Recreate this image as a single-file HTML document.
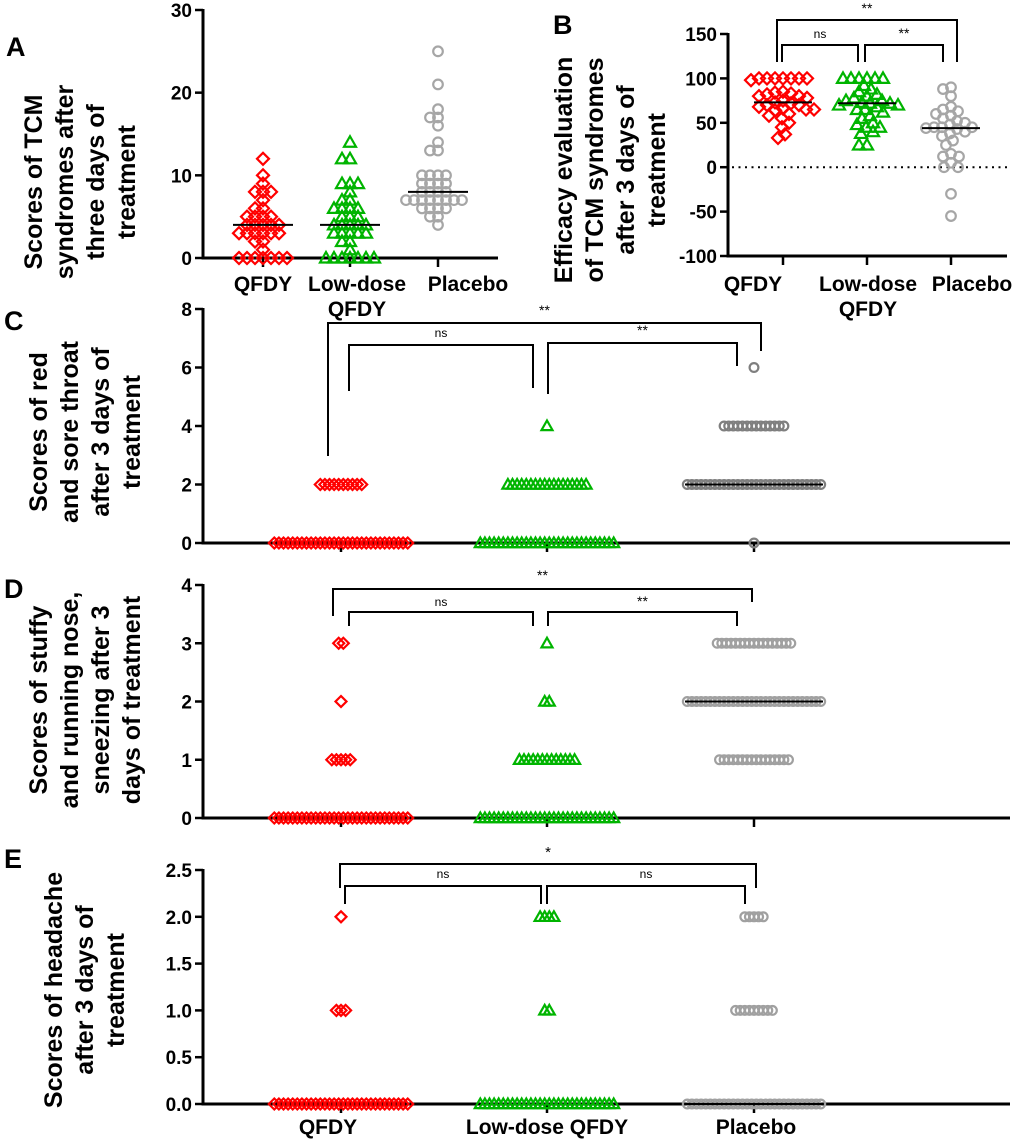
<!DOCTYPE html>
<html><head><meta charset="utf-8">
<style>
html,body{margin:0;padding:0;background:#fff;}
svg{display:block;font-family:"Liberation Sans",sans-serif;}
</style></head>
<body>
<svg id="fig" width="1020" height="1144" viewBox="0 0 1020 1144">
  <g id="static" font-weight="bold" fill="#000">
    <text x="6" y="56" font-size="27">A</text>
    <text x="553" y="34" font-size="27">B</text>
    <text x="4" y="330" font-size="27">C</text>
    <text x="4" y="598" font-size="27">D</text>
    <text x="4" y="868" font-size="27">E</text>

    <g font-size="25" text-anchor="middle" transform="translate(80,182) rotate(-90)">
      <text y="-38">Scores of TCM</text><text y="-7">syndromes after</text><text y="24">three days of</text><text y="55">treatment</text>
    </g>
    <g font-size="25" text-anchor="middle" transform="translate(610,170) rotate(-90)">
      <text y="-38">Efficacy evaluation</text><text y="-7">of TCM syndromes</text><text y="24">after 3 days of</text><text y="55">treatment</text>
    </g>
    <g font-size="25" text-anchor="middle" transform="translate(85,432) rotate(-90)">
      <text y="-38">Scores of red</text><text y="-7">and sore throat</text><text y="24">after 3 days of</text><text y="55">treatment</text>
    </g>
    <g font-size="25" text-anchor="middle" transform="translate(85,700) rotate(-90)">
      <text y="-38">Scores of stuffy</text><text y="-7">and running nose,</text><text y="24">sneezing after 3</text><text y="55">days of treatment</text>
    </g>
    <g font-size="25" text-anchor="middle" transform="translate(85,990) rotate(-90)">
      <text y="-23">Scores of headache</text><text y="8">after 3 days of</text><text y="39">treatment</text>
    </g>

    <g font-size="21" text-anchor="middle">
      <text x="263" y="291">QFDY</text><text x="357" y="291">Low-dose</text><text x="357" y="316">QFDY</text><text x="468" y="291">Placebo</text>
    </g>
    <g font-size="21" text-anchor="middle">
      <text x="753" y="291">QFDY</text><text x="868" y="291">Low-dose</text><text x="868" y="316">QFDY</text><text x="972" y="291">Placebo</text>
    </g>
    <g font-size="21" text-anchor="middle">
      <text x="328" y="1134">QFDY</text><text x="547" y="1134">Low-dose QFDY</text><text x="756" y="1134">Placebo</text>
    </g>
  </g>
  <g id="dyn"></g>
</svg>
<script>
// ---------- Panel A data ----------
const aCategories = ["QFDY","Low-dose QFDY","Placebo"];
const aQfdy = [12,10,9,8,8,8,7,6,6,5,5,5,5,4,4,4,4,4,3,3,3,3,3,3,2,2,1,0,0,0,0,0,0,0];
const aLow = [14,12,12,9,9,9,8,7,7,6,6,6,6,5,5,5,4,4,4,4,4,3,3,3,3,3,2,2,1,0,0,0,0,0,0,0];
const aPlacebo = [25,21,18,17,17,16,14,13,13,10,10,10,10,9,9,9,9,8,8,8,8,7,7,7,7,7,7,7,7,6,6,6,6,5,5,4];
const aMedians = [4,4,8];
const aTicks = [0,10,20,30];
// ---------- Panel B data ----------
const bQfdy = [100,100,100,100,100,100,100,98,85,84,83,82,80,80,78,75,73,72,70,70,68,66,65,65,64,60,58,55,50,45,37,33];
const bLow = [100,100,100,100,100,100,92,88,85,82,80,78,75,75,73,72,72,70,70,68,65,65,62,58,55,50,48,45,45,40,38,25,25];
const bPlacebo = [90,88,80,68,65,63,60,58,55,52,50,48,45,45,45,44,43,40,38,35,30,25,15,12,12,5,0,0,-30,-55];
const bMedians = [73,72,44];
const bTicks = [-100,-50,0,50,100,150];
// ---------- Panel C data (counts per level) ----------
const cLevels = [0,2,4,6];
const cQfdyCounts = [30,10,0,0];
const cLowCounts = [30,18,1,0];
const cPlaceboCounts = [1,30,14,1];
const cTicks = [0,2,4,6,8];
// ---------- Panel D data ----------
const dLevels = [0,1,2,3];
const dQfdyCounts = [30,5,1,2];
const dLowCounts = [30,13,2,1];
const dPlaceboCounts = [0,16,30,17];
const dTicks = [0,1,2,3,4];
// ---------- Panel E data ----------
const eLevels = [0,1,2];
const eQfdyCounts = [30,3,1];
const eLowCounts = [30,2,4];
const ePlaceboCounts = [30,9,5];
const eTicks = [0,0.5,1,1.5,2,2.5];

const NS = "http://www.w3.org/2000/svg";
const dyn = document.getElementById("dyn");
function mk(tag, attrs, parent){
  const e = document.createElementNS(NS, tag);
  for (const k in attrs) e.setAttribute(k, attrs[k]);
  (parent||dyn).appendChild(e);
  return e;
}
const COLORS = {diamond:"#ff0000", tri:"#00b400", circ:"#a6a6a6"};
function marker(shape, x, y, r, color, g){
  let e;
  if (shape==="diamond"){
    e = mk("polygon",{points:`${x},${y-r} ${x+r},${y} ${x},${y+r} ${x-r},${y}`,fill:"none",stroke:color,"stroke-width":2.2},g);
  } else if (shape==="tri"){
    e = mk("polygon",{points:`${x},${y-r} ${x+r},${y+r*0.75} ${x-r},${y+r*0.75}`,fill:"none",stroke:color,"stroke-width":2.2},g);
  } else {
    e = mk("circle",{cx:x,cy:y,r:r*0.8,fill:"none",stroke:color,"stroke-width":2.2},g);
  }
  
  
  return e;
}
function axes(p, ticks, fmt, name){
  const g = mk("g",{});
  
  
  const yb = p.xAxisY !== undefined ? p.xAxisY : p.y(p.d0);
  mk("line",{x1:p.x0,y1:p.y(p.d1)-1,x2:p.x0,y2:yb+1.5,stroke:"#000","stroke-width":3},g);
  mk("line",{x1:p.x0-1.5,y1:yb,x2:p.x1,y2:yb,stroke:"#000","stroke-width":3},g);
  ticks.forEach(t=>{
    const y = p.y(t);
    mk("line",{x1:p.x0-8,y1:y,x2:p.x0,y2:y,stroke:"#000","stroke-width":2.5},g);
    const tx = mk("text",{x:p.x0-11,y:y+7,"text-anchor":"end","font-size":p.fs||19,"font-weight":"bold"},g);
    tx.textContent = fmt(t);
  });
  p.cats.forEach(cx=>{
    mk("line",{x1:cx,y1:yb,x2:cx,y2:yb+9,stroke:"#000","stroke-width":2.5},g);
  });
}
function swarm(vals, cx, yf, d){
  const placed = [];
  const sorted = vals.slice().sort((a,b)=>b-a);
  sorted.forEach(v=>{
    const y = yf(v);
    for (let k=0;k<200;k++){
      const off = (k%2===0?1:-1)*Math.ceil(k/2)*1;
      const x = cx+off;
      if (placed.every(q=>(q[0]-x)**2+(q[1]-y)**2 >= d*d)){ placed.push([x,y]); break; }
    }
  });
  return placed;
}
function medianLine(cx, y, w, g){
  const l = mk("line",{x1:cx-w/2,y1:y,x2:cx+w/2,y2:y,stroke:"#000","stroke-width":2},g);
  
  
}
function bracket(xa, xb, ytop, ya, yb2, label, ly, fs){
  const g = mk("g",{});
  
  
  mk("path",{d:`M${xa},${ya} L${xa},${ytop} L${xb},${ytop} L${xb},${yb2}`,fill:"none",stroke:"#000","stroke-width":2},g);
  const t = mk("text",{x:(xa+xb)/2,y:ly,"text-anchor":"middle","font-size":fs},g);
  t.textContent = label;
}

// ---------- Panel A ----------
const pA = {x0:203,x1:498,d0:0,d1:30,cats:[263,350,438]};
pA.y = v => 258 + (10-258)*(v-0)/30;
axes(pA, aTicks, t=>String(t), "axes-a");
[[aQfdy,"diamond"],[aLow,"tri"],[aPlacebo,"circ"]].forEach((s,i)=>{
  const g = mk("g",{});
  
  
  swarm(s[0], pA.cats[i], pA.y, 8).forEach(p=>marker(s[1],p[0],p[1],6,COLORS[s[1]],g));
  medianLine(pA.cats[i], pA.y(aMedians[i]), 60, g);
});

// ---------- Panel B ----------
const pB = {x0:728,x1:1007,d0:-100,d1:150,cats:[783,867,951],xAxisY:256};
pB.y = v => 256 + (34-256)*(v+100)/250;
axes(pB, bTicks, t=>String(t), "axes-b");
(function(){
  const z = mk("line",{x1:732,y1:pB.y(0),x2:1007,y2:pB.y(0),stroke:"#000","stroke-width":2,"stroke-dasharray":"2,4.5"});
  
  
})();
[[bQfdy,"diamond"],[bLow,"tri"],[bPlacebo,"circ"]].forEach((s,i)=>{
  const g = mk("g",{});
  
  
  swarm(s[0], pB.cats[i], pB.y, 7.5).forEach(p=>marker(s[1],p[0],p[1],6,COLORS[s[1]],g));
  medianLine(pB.cats[i], pB.y(bMedians[i]), 58, g);
});
bracket(777,957,20,62,62,"**",13,14);
bracket(782,858,45,62,62,"ns",38,12);
bracket(865,943,45,62,62,"**",38,14);

// ---------- Rows panels ----------
function rowPanel(p, levels, series, ticks, fmt, name, colors){
  axes(p, ticks, fmt, name);
  series.forEach((s,i)=>{
    const g = mk("g",{});
    
    
    levels.forEach((lv,j)=>{
      const n = s[0][j];
      const y = p.y(lv);
      for (let k=0;k<n;k++){
        const x = p.cats[i] + (k-(n-1)/2)*4.6;
        marker(s[1], x, y, 5.5, colors[i], g);
      }
    });
    if (s[1]==="circ"){
      levels.forEach((lv,j)=>{ if (s[0][j]>=25) medianLine(p.cats[i], p.y(lv), s[0][j]*4.6, g); });
    }
  });
}
const pC = {x0:203,x1:1010,d0:0,d1:8,cats:[341,547,754]};
pC.y = v => 543 + (309-543)*v/8;
rowPanel(pC, cLevels, [[cQfdyCounts,"diamond"],[cLowCounts,"tri"],[cPlaceboCounts,"circ"]], cTicks, t=>String(t), "axes-c", ["#ff0000","#00b400","#7f7f7f"]);
bracket(328,761,323,456,351,"**",315,14);
bracket(349,533,345,391,388,"ns",337,12);
bracket(548,737,343,394,366,"**",335,14);

const pD = {x0:203,x1:1010,d0:0,d1:4,cats:[341,547,754]};
pD.y = v => 818 + (585-818)*v/4;
rowPanel(pD, dLevels, [[dQfdyCounts,"diamond"],[dLowCounts,"tri"],[dPlaceboCounts,"circ"]], dTicks, t=>String(t), "axes-d", ["#ff0000","#00b400","#a0a0a0"]);
bracket(333,752,589,616,602,"**",580,14);
bracket(349,533,612,626,626,"ns",606,12);
bracket(548,737,612,626,626,"**",606,14);

const pE = {x0:203,x1:1010,d0:0,d1:2.5,cats:[341,547,754]};
pE.y = v => 1104 + (870-1104)*v/2.5;
rowPanel(pE, eLevels, [[eQfdyCounts,"diamond"],[eLowCounts,"tri"],[ePlaceboCounts,"circ"]], eTicks, t=>t.toFixed(1), "axes-e", ["#ff0000","#00b400","#a0a0a0"]);
bracket(340,756,864,888,888,"*",857,15);
bracket(345,541,886,904,904,"ns",878,12);
bracket(547,745,886,904,904,"ns",878,12);
</script>
</body></html>
